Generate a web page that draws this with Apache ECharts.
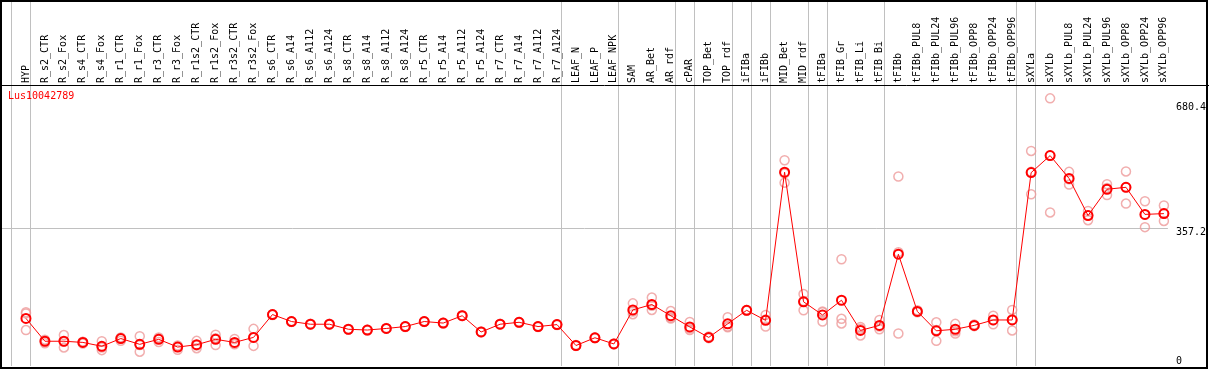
<!DOCTYPE html>
<html>
<head>
<meta charset="utf-8">
<title>Lus10042789</title>
<script src="https://cdn.jsdelivr.net/npm/echarts@6/dist/echarts.min.js"></script>
<style>
  html, body { margin: 0; padding: 0; background: #fff; }
  #chart { width: 1209px; height: 370px; }
</style>
</head>
<body>
<div id="chart"></div>
<script>
const geneName = "Lus10042789";

const categories = [
  "HYP",
  "R_s2_CTR", "R_s2_Fox", "R_s4_CTR", "R_s4_Fox", "R_r1_CTR", "R_r1_Fox",
  "R_r3_CTR", "R_r3_Fox", "R_r1s2_CTR", "R_r1s2_Fox", "R_r3s2_CTR", "R_r3s2_Fox",
  "R_s6_CTR", "R_s6_A14", "R_s6_A112", "R_s6_A124",
  "R_s8_CTR", "R_s8_A14", "R_s8_A112", "R_s8_A124",
  "R_r5_CTR", "R_r5_A14", "R_r5_A112", "R_r5_A124",
  "R_r7_CTR", "R_r7_A14", "R_r7_A112", "R_r7_A124",
  "LEAF_N", "LEAF_P", "LEAF_NPK",
  "SAM", "AR_Bet", "AR_rdf", "cPAR", "TOP_Bet", "TOP_rdf", "iFIBa", "iFIBb",
  "MID_Bet", "MID_rdf", "tFIBa", "tFIB_Gr", "tFIB_Li", "tFIB_Bi",
  "tFIBb", "tFIBb_PUL8", "tFIBb_PUL24", "tFIBb_PUL96", "tFIBb_OPP8", "tFIBb_OPP24", "tFIBb_OPP96",
  "sXYLa", "sXYLb", "sXYLb_PUL8", "sXYLb_PUL24", "sXYLb_PUL96", "sXYLb_OPP8", "sXYLb_OPP24", "sXYLb_OPP96"
];

// mean expression per sample
const means = [
  123, 64, 64, 61, 51, 71, 56, 69, 49, 55, 69, 61, 74,
  133, 115, 108, 108, 95, 93, 97, 102, 115, 111, 130, 88, 108, 113, 102, 107,
  53, 73, 57,
  145, 159, 130, 101, 74, 109, 144, 118,
  501, 166, 132, 170, 92, 105,
  289, 141, 91, 95, 105, 119, 119,
  500, 544, 485, 389, 457, 462, 392, 394
];

// replicates
const rep1 = [
  139, 68, 80, 63, 64, 74, 77, 71, 53, 65, 81, 70, 96,
  134, 116, 109, 109, 95, 94, 98, 103, 116, 112, 131, 89, 109, 114, 103, 108,
  54, 74, 58,
  162, 177, 142, 114, 76, 126, 145, 132,
  532, 186, 141, 276, 101, 119,
  490, 144, 113, 109, 107, 130, 145,
  556, 692, 502, 401, 470, 503, 426, 415
];
const rep2 = [
  136, 64, 63, 58, 48, 65, 54, 62, 42, 46, 54, 58, 52,
  133, 115, 108, 108, 95, 93, 97, 102, 115, 111, 130, 88, 108, 113, 102, 107,
  53, 73, 57,
  141, 145, 123, 93, 72, 100, 144, 102,
  474, 144, 115, 122, 79, 95,
  84, 139, 65, 84, 103, 108, 92,
  444, 397, 469, 377, 442, 420, 359, 375
];
const rep3 = [
  93, 59, 48, 62, 41, 71, 37, 74, 49, 53, 72, 56, 73,
  132, 114, 107, 107, 94, 92, 96, 101, 114, 110, 129, 87, 107, 112, 101, 106,
  52, 72, 56,
  134, 156, 125, 97, 74, 102, 143, 120,
  498, 168, 139, 110, 96, 102,
  294, 140, 93, 90, 105, 118, 120,
  502, 544, 483, 390, 460, 462, 391, 394
];

// index of the last sample in each group, a grey separator follows it
const groupEnds = [-1, 0, 28, 31, 34, 35, 37, 38, 39, 41, 42, 45, 52, 53, 60];
const yTicks = [357.2, 680.4];
const yZeroTick = [0];

const FONT = "'DejaVu Sans Mono', monospace";
const GREY = "#c0c0c0";
const MEAN_RED = "#ff0000";
const REP_PINK = "#ee9a9a";

const chart = echarts.init(document.getElementById("chart"));

const toPoints = (arr) => arr.map((v, i) => [i, v]);

const repSeries = [rep1, rep2, rep3].map((arr) => ({
  type: "scatter",
  data: toPoints(arr),
  symbol: "circle",
  symbolSize: 9,
  itemStyle: { color: "transparent", borderColor: REP_PINK, borderWidth: 1.5 },
  z: 2,
  silent: true,
}));

const option = {
  animation: false,
  backgroundColor: "#fff",
  title: {
    text: geneName,
    left: 8,
    top: 91,
    padding: 0,
    textStyle: { color: "#ff0000", fontFamily: FONT, fontSize: 10, fontWeight: "normal" },
  },
  grid: { left: 1, right: 39, top: 1, bottom: 4 },
  xAxis: {
    type: "value",
    position: "top",
    offset: -84,
    min: -1.3158,
    max: 60.2105,
    axisLine: { show: false },
    axisTick: { show: false },
    splitLine: { show: false },
    axisLabel: {
      rotate: 90,
      margin: 2,
      color: "#000",
      fontFamily: FONT,
      fontSize: 10,
      customValues: categories.map((_, i) => i),
      formatter: (v) => categories[v] ?? "",
    },
  },
  yAxis: [
    {
      type: "value",
      position: "right",
      min: 0,
      max: 943.7,
      axisLine: { show: false },
      axisTick: { show: false },
      splitLine: { show: false },
      axisLabel: {
        customValues: yTicks,
        verticalAlign: "top",
        margin: 8,
        color: "#000",
        fontFamily: FONT,
        fontSize: 10,
      },
    },
    {
      type: "value",
      position: "right",
      min: 0,
      max: 943.7,
      axisLine: { show: false },
      axisTick: { show: false },
      splitLine: { show: false },
      axisLabel: {
        customValues: yZeroTick,
        verticalAlign: "bottom",
        margin: 8,
        color: "#000",
        fontFamily: FONT,
        fontSize: 10,
      },
    },
  ],
  series: [
    // grey separators and the 357.2 grid line
    {
      type: "line",
      data: [],
      z: 1,
      markLine: {
        silent: true,
        symbol: ["none", "none"],
        label: { show: false },
        lineStyle: { color: GREY, width: 1, type: "solid" },
        emphasis: { disabled: true },
        z: 1,
        data: [
          ...groupEnds.map((j) => ({ xAxis: j + 0.2368 })),
          ...yTicks.slice(0, 1).map((v) => ({ yAxis: v })),
        ],
      },
    },
    ...repSeries,
    {
      type: "line",
      data: toPoints(means),
      symbol: "circle",
      symbolSize: 9,
      showSymbol: true,
      lineStyle: { color: MEAN_RED, width: 1 },
      itemStyle: { color: "transparent", borderColor: MEAN_RED, borderWidth: 2 },
      z: 3,
      silent: true,
    },
  ],
  graphic: [
    {
      type: "rect",
      shape: { x: 1, y: 1, width: 1206, height: 367 },
      style: { fill: "none", stroke: "#000", lineWidth: 2 },
      z: 100,
      silent: true,
    },
    {
      type: "line",
      shape: { x1: 0, y1: 85.5, x2: 1209, y2: 85.5 },
      style: { stroke: "#000", lineWidth: 1 },
      z: 100,
      silent: true,
    },
  ],
};

chart.setOption(option);
</script>
</body>
</html>
